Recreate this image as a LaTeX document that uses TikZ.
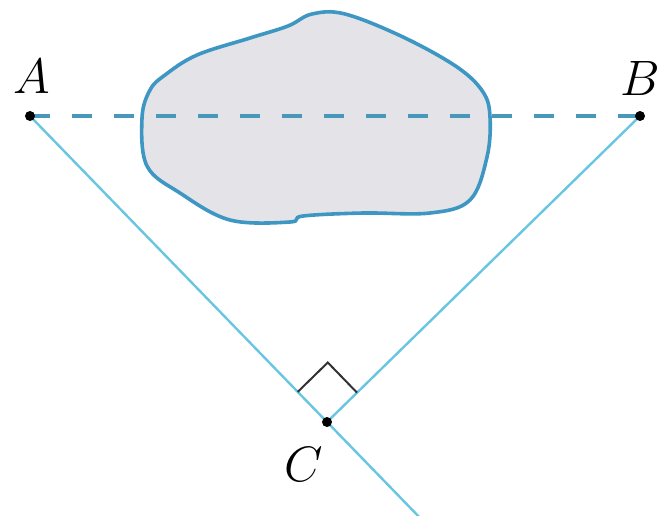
\documentclass[tikz,border=0pt]{standalone}
\usetikzlibrary{calc}
\definecolor{lineblue}{RGB}{105,198,225}
\definecolor{dashblue}{RGB}{72,152,188}
\definecolor{blobblue}{RGB}{62,150,195}
\definecolor{blobfill}{RGB}{228,228,232}
\definecolor{markgray}{RGB}{50,50,50}
\begin{document}
\begin{tikzpicture}[x=0.5pt,y=-0.5pt,
  sightline/.style={draw=lineblue,line width=1.2pt},
  baseline/.style={draw=dashblue,line width=1.6pt,dash pattern=on 10pt off 11pt},
  pointdot/.style={circle,fill=black,inner sep=0pt,minimum size=5pt},
  ptlabel/.style={font=\fontsize{27}{27}\selectfont,inner sep=0pt},
  ramark/.style={draw=markgray,line width=1pt}]
\useasboundingbox (0,0) rectangle (667,515);
% obstacle
\draw[blobblue,line width=1.8pt,fill=blobfill] plot[smooth cycle,tension=0.6] coordinates {
 (142,118) (150,90) (165,75) (197,55) (250,38) (288,26) (312,14) (345,14)
 (403,37) (457,67) (483,92) (490,117) (487,157) (470,200) (430,213)
 (363,213) (303,216) (290,222) (230,220) (180,193) (147,166)};
\coordinate (A) at (30,116);
\coordinate (B) at (640,116);
\coordinate (C) at (327,422);
\coordinate (E) at ($(A)!1.31!(C)$);
\draw[baseline] (A) -- (B);
\draw[sightline] (A) -- (E);
\draw[sightline] (B) -- (C);
% right angle mark
\coordinate (P1) at ($(C)!21pt!(A)$);
\coordinate (P2) at ($(C)!21pt!(B)$);
\draw[ramark] (P1) -- ($(P1)+(P2)-(C)$) -- (P2);
\node[pointdot] (dA) at (A) {};
\node[pointdot] (dB) at (B) {};
\node[pointdot] (dC) at (C) {};
\node[ptlabel] (lA) at (32,76) {$A$};
\node[ptlabel] (lB) at (640,78) {$B$};
\node[ptlabel] (lC) at (304,464) {$C$};
\end{tikzpicture}
\end{document}
